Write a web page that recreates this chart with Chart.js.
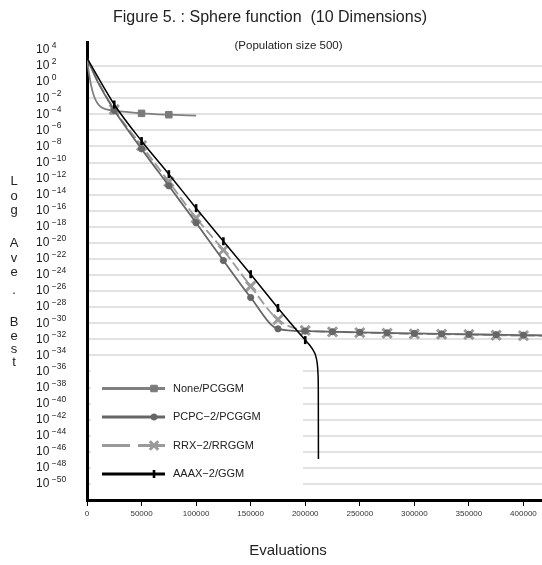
<!DOCTYPE html>
<html><head><meta charset="utf-8">
<script src="https://cdn.jsdelivr.net/npm/chart.js@4.4.0/dist/chart.umd.min.js"></script>
<style>html,body{margin:0;padding:0;background:#fff;}canvas{display:block;}</style>
</head><body>
<canvas id="c" width="542" height="565"></canvas>
<script>
// ---- data (y values are log10 of the average best value) ----
const seriesNames = ['None/PCGGM', 'PCPC\u22122/PCGGM', 'RRX\u22122/RRGGM', 'AAAX\u22122/GGM'];

const noneX = [0, 1000, 2100, 4000, 6700, 9500, 12800, 18000, 25000, 50000, 75000, 100000];
const noneY = [3.0, 1.9, 0.85, -0.55, -1.85, -2.6, -3.1, -3.38, -3.55, -3.88, -4.05, -4.16];
const noneMarks = [25000, 50000, 75000];

const pcpcX = [0, 10000, 25000, 50000, 75000, 100000, 125000, 150000, 175000, 200000, 225000, 250000, 275000, 300000, 325000, 350000, 375000, 400000, 417000];
const pcpcY = [3.0, 0.0, -3.5, -8.3, -12.9, -17.5, -22.2, -26.8, -30.7, -30.98, -31.06, -31.13, -31.2, -31.27, -31.33, -31.38, -31.43, -31.48, -31.5];
const pcpcMarks = [25000, 50000, 75000, 100000, 125000, 150000, 175000, 200000, 225000, 250000, 275000, 300000, 325000, 350000, 375000, 400000];

const rrxX = [0, 10000, 25000, 50000, 75000, 100000, 125000, 150000, 175000, 200000, 225000, 250000, 275000, 300000, 325000, 350000, 375000, 400000, 417000];
const rrxY = [3.0, 0.15, -3.4, -7.9, -12.4, -16.9, -20.9, -25.4, -29.55, -30.9, -31.08, -31.17, -31.25, -31.33, -31.37, -31.4, -31.5, -31.54, -31.56];
const rrxMarks = [25000, 50000, 75000, 100000, 125000, 150000, 175000, 200000, 225000, 250000, 275000, 300000, 325000, 350000, 375000, 400000];

const aaaxX = [0, 25000, 50000, 75000, 100000, 125000, 150000, 175000, 200000, 204000, 207000, 209500, 211000, 211800, 212000, 212100];
const aaaxY = [3.0, -2.78, -7.32, -11.45, -15.68, -19.8, -23.9, -28.1, -32.1, -32.7, -33.3, -34.0, -35.0, -36.5, -38.5, -46.9];
const aaaxMarks = [25000, 50000, 75000, 100000, 125000, 150000, 175000, 200000];

const xTickValues = [0, 50000, 100000, 150000, 200000, 250000, 300000, 350000, 400000];
const yTickExponents = [4, 2, 0, -2, -4, -6, -8, -10, -12, -14, -16, -18, -20, -22, -24, -26, -28, -30, -32, -34, -36, -38, -40, -42, -44, -46, -48, -50];

const titleText = 'Figure 5. : Sphere function  (10 Dimensions)';
const subtitleText = '(Population size 500)';
const xTitleText = 'Evaluations';
const yTitleLetters = ['L','o','g','A','v','e','.','B','e','s','t'];

// ---- styles ----
const FONT = '"Liberation Sans", Arial, Helvetica, sans-serif';
const styles = [
  {color:'#808080', fill:'#7a7a7a', pointStyle:'rect', radius:4.6, pbw:1, dash:[], width:1.8, order:3},
  {color:'#666666', fill:'#666666', pointStyle:'circle', radius:3.1, pbw:1, dash:[], width:1.8, order:1},
  {color:'#9a9a9a', fill:'#9a9a9a', pointStyle:'crossRot', radius:6.5, pbw:3, dash:[10,4], width:1.8, order:2},
  {color:'#000000', fill:'#000000', pointStyle:'line', radius:4, pbw:2.6, dash:[], width:1.5, order:0, rotation:90}
];
const xs = [noneX, pcpcX, rrxX, aaaxX];
const ys = [noneY, pcpcY, rrxY, aaaxY];
const marks = [noneMarks, pcpcMarks, rrxMarks, aaaxMarks];

const datasets = seriesNames.map((name, i) => {
  const st = styles[i];
  const mk = marks[i];
  return {
    label: name,
    data: xs[i].map((x, k) => ({x: x, y: ys[i][k]})),
    borderColor: st.color,
    backgroundColor: st.fill,
    borderWidth: st.width,
    borderDash: st.dash,
    pointStyle: st.pointStyle,
    pointRotation: st.rotation || 0,
    pointBorderWidth: st.pbw,
    pointBorderColor: st.pointStyle === 'crossRot' ? st.color : (st.pointStyle === 'line' ? '#000' : st.fill),
    pointBackgroundColor: st.fill,
    pointRadius: ctx => (ctx.raw && mk.indexOf(ctx.raw.x) >= 0) ? st.radius : 0,
    pointHoverRadius: ctx => (ctx.raw && mk.indexOf(ctx.raw.x) >= 0) ? st.radius : 0,
    cubicInterpolationMode: 'monotone',
    fill: false,
    order: st.order
  };
});

const decorPlugin = {
  id: 'decor',
  beforeDatasetsDraw(chart) {
    // white legend box over the gridlines
    const ctx = chart.ctx;
    ctx.save();
    ctx.fillStyle = '#ffffff';
    ctx.fillRect(91, 364, 212, 128);
    ctx.restore();
  },
  afterDraw(chart) {
    const ctx = chart.ctx;
    const yScale = chart.scales.y;
    ctx.save();
    ctx.fillStyle = '#222';
    // y tick labels as 10^n
    ctx.textAlign = 'left';
    ctx.textBaseline = 'middle';
    yTickExponents.forEach(e => {
      const py = yScale.getPixelForValue(e);
      ctx.font = '12px ' + FONT;
      ctx.fillText('10', 36, py);
      ctx.font = '8.5px ' + FONT;
      ctx.fillText(e < 0 ? '\u2212' + (-e) : String(e), 51.7, py - 4.3);
    });
    // titles
    ctx.textAlign = 'center';
    ctx.font = '16px ' + FONT;
    ctx.fillText(titleText, 270, 18);
    ctx.font = '11.5px ' + FONT;
    ctx.fillText(subtitleText, 288.5, 46);
    ctx.font = '15px ' + FONT;
    ctx.fillText(xTitleText, 288, 551);
    // vertical y title
    ctx.font = '13px ' + FONT;
    const yPos = [181.5, 196, 210, 243.5, 258, 272, 290, 322, 336.5, 349.5, 362];
    yTitleLetters.forEach((ch, i) => ctx.fillText(ch, 14, yPos[i]));
    // legend
    const rows = [388.5, 417, 445.5, 474];
    seriesNames.forEach((name, i) => {
      const st = styles[i];
      const ry = rows[i];
      ctx.strokeStyle = st.color;
      ctx.lineWidth = 3;
      ctx.setLineDash(i === 2 ? [28, 8] : []);
      ctx.beginPath();
      ctx.moveTo(102, ry);
      ctx.lineTo(165, ry);
      ctx.stroke();
      ctx.setLineDash([]);
      ctx.fillStyle = st.fill;
      ctx.strokeStyle = st.pointStyle === 'crossRot' ? st.color : (st.pointStyle === 'line' ? '#000' : st.fill);
      ctx.lineWidth = st.pbw;
      Chart.helpers.drawPoint(ctx, {pointStyle: st.pointStyle, rotation: st.rotation || 0, radius: st.pointStyle === 'crossRot' ? 6 : st.radius, borderWidth: st.pbw}, 154, ry);
      ctx.fillStyle = '#222';
      ctx.font = '11px ' + FONT;
      ctx.textAlign = 'left';
      ctx.textBaseline = 'middle';
      ctx.fillText(name, 173, ry);
    });
    ctx.restore();
  }
};

new Chart(document.getElementById('c'), {
  type: 'line',
  data: {datasets: datasets},
  options: {
    responsive: false,
    animation: false,
    devicePixelRatio: 1,
    layout: {padding: {top: 42, left: 0, right: 0, bottom: 0}},
    plugins: {legend: {display: false}, title: {display: false}, tooltip: {enabled: false}},
    scales: {
      x: {
        type: 'linear',
        min: 0,
        max: 417000,
        afterBuildTicks: s => { s.ticks = xTickValues.map(v => ({value: v})); },
        afterFit: s => { s.height = 65; },
        grid: {display: true, drawOnChartArea: false, drawTicks: true, tickLength: 6, color: '#000', lineWidth: 1},
        border: {display: true, color: '#000', width: 3},
        ticks: {font: {family: FONT, size: 8}, color: '#333', padding: 3, maxRotation: 0, autoSkip: false,
                callback: v => String(v)}
      },
      y: {
        type: 'linear',
        min: -52,
        max: 5,
        afterBuildTicks: s => { s.ticks = yTickExponents.map(v => ({value: v})); },
        afterFit: s => { s.width = 87; },
        grid: {display: true, drawTicks: false, lineWidth: 2,
               color: c => (c.tick && c.tick.value === 4) ? 'rgba(0,0,0,0)' : '#e2e2e2'},
        border: {display: true, color: '#000', width: 3},
        ticks: {display: false}
      }
    }
  },
  plugins: [decorPlugin]
});
</script>
</body></html>
